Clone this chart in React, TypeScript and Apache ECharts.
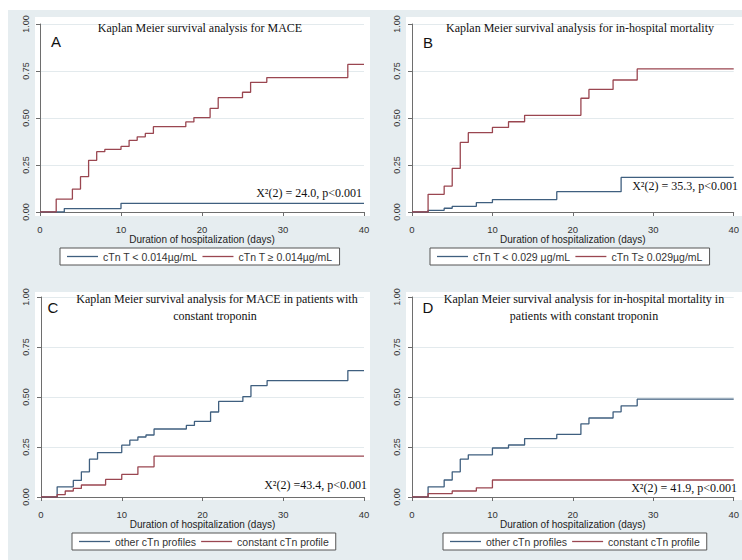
import React, { useEffect, useRef } from "react";
import * as echarts from "echarts";

// ---- Data ----
const xAxisTitle = "Duration of hospitalization (days)";

const aLowName = "cTn T < 0.014µg/mL";
const aHighName = "cTn T ≥ 0.014µg/mL";
const aLowTimes = [0, 3, 10, 40];
const aLowValues = [0, 0.018, 0.046, 0.046];
const aHighTimes = [0, 2, 4, 5, 6, 7, 8, 10, 11, 12, 13, 14, 18, 19, 21, 22, 25, 26, 28, 38, 40];
const aHighValues = [0, 0.069, 0.122, 0.188, 0.275, 0.321, 0.333, 0.349, 0.381, 0.4, 0.418, 0.454, 0.479, 0.502, 0.551, 0.608, 0.637, 0.69, 0.715, 0.785, 0.785];

const bLowName = "cTn T < 0.029 µg/mL";
const bHighName = "cTn T≥ 0.029µg/mL";
const bLowTimes = [0, 2, 4, 5, 8, 10, 18, 26, 40];
const bLowValues = [0, 0.009, 0.02, 0.03, 0.05, 0.066, 0.108, 0.184, 0.184];
const bHighTimes = [0, 2, 4, 5, 6, 7, 10, 12, 14, 21, 22, 25, 28, 40];
const bHighValues = [0, 0.094, 0.138, 0.232, 0.37, 0.422, 0.45, 0.48, 0.514, 0.605, 0.652, 0.702, 0.761, 0.761];

const otherName = "other cTn profiles";
const constName = "constant cTn profile";
const cOtherTimes = [0, 2, 4, 5, 6, 7, 10, 11, 12, 13, 14, 18, 19, 21, 22, 25, 26, 28, 38, 40];
const cOtherValues = [0, 0.051, 0.083, 0.126, 0.189, 0.222, 0.259, 0.284, 0.3, 0.31, 0.34, 0.358, 0.378, 0.425, 0.478, 0.502, 0.557, 0.582, 0.632, 0.632];
const cConstTimes = [0, 2, 3, 4, 5, 8, 10, 12, 14, 40];
const cConstValues = [0, 0.012, 0.03, 0.043, 0.06, 0.088, 0.113, 0.151, 0.204, 0.204];

const dOtherTimes = [0, 2, 4, 5, 6, 7, 10, 12, 14, 18, 21, 22, 25, 26, 28, 40];
const dOtherValues = [0, 0.051, 0.085, 0.126, 0.189, 0.211, 0.245, 0.26, 0.292, 0.313, 0.366, 0.395, 0.426, 0.456, 0.489, 0.489];
const dConstTimes = [0, 2, 5, 8, 10, 40];
const dConstValues = [0, 0.017, 0.03, 0.046, 0.085, 0.085];

const panelLetters = ["A", "B", "C", "D"];
const panelTitles = [
  ["Kaplan Meier survival analysis for MACE"],
  ["Kaplan Meier survival analysis for in-hospital mortality"],
  ["Kaplan Meier survival analysis for MACE in patients with", "constant troponin"],
  ["Kaplan Meier survival analysis for in-hospital mortality in", "patients with constant troponin"],
];
const chiTexts = [
  "X²(2) = 24.0, p<0.001",
  "X²(2) = 35.3, p<0.001",
  "X²(2) =43.4, p<0.001",
  "X²(2) = 41.9, p<0.001",
];

// ---- Styles / layout ----
const BLUE = "#3f5f7f";
const RED = "#9a4650";
const AXIS = "#6e6e6e";
const PANEL_BG = "#e6edf0";
const GRID_LINE = "#e3eaed";
const SANS = "'Liberation Sans', Arial, sans-serif";
const SERIF = "'Liberation Serif', 'Times New Roman', serif";

const layouts = [
  { grid: { left: 40, top: 24, width: 324, height: 188 }, yOff: 6, xOff: 6, legend: { left: 60, top: 248, textW: 95 }, letter: [56, 41], title: [[200, 28]], chi: [362, 193] },
  { grid: { left: 412, top: 24, width: 324, height: 188 }, yOff: 7, xOff: 6, legend: { left: 430, top: 248, textW: 96 }, letter: [428, 42], title: [[580, 28]], chi: [738, 186] },
  { grid: { left: 41, top: 297, width: 323, height: 200 }, yOff: 7, xOff: 6, legend: { left: 72, top: 533, textW: 85 }, letter: [53, 307], title: [[217, 299], [215, 316]], chi: [367, 485] },
  { grid: { left: 412, top: 297, width: 324, height: 200 }, yOff: 7, xOff: 6, legend: { left: 443, top: 533, textW: 85 }, letter: [428, 307], title: [[584, 299], [584, 316]], chi: [737, 488] },
];
// graph region (light bluish gray) and white plot regions, drawn as axis-less helper grids
const graphRegion = { left: 8, top: 10, width: 734, height: 550 };
const plotRegions = [
  { left: 35, top: 17, width: 335, height: 199 },
  { left: 406, top: 17, width: 336, height: 199 },
  { left: 35, top: 292, width: 335, height: 208 },
  { left: 406, top: 292, width: 336, height: 208 },
];

const panelSeries = [
  [
    { name: aLowName, t: aLowTimes, v: aLowValues, color: BLUE },
    { name: aHighName, t: aHighTimes, v: aHighValues, color: RED },
  ],
  [
    { name: bLowName, t: bLowTimes, v: bLowValues, color: BLUE },
    { name: bHighName, t: bHighTimes, v: bHighValues, color: RED },
  ],
  [
    { name: otherName, t: cOtherTimes, v: cOtherValues, color: BLUE },
    { name: constName, t: cConstTimes, v: cConstValues, color: RED },
  ],
  [
    { name: otherName, t: dOtherTimes, v: dOtherValues, color: BLUE },
    { name: constName, t: dConstTimes, v: dConstValues, color: RED },
  ],
];

function pairs(t: number[], v: number[]) {
  return t.map((x, i) => [x, v[i]]);
}

function buildOption() {
  const grid: any[] = [];
  const xAxis: any[] = [];
  const yAxis: any[] = [];
  const series: any[] = [];
  const legend: any[] = [];
  const graphic: any[] = [];

  layouts.forEach((L, i) => {
    grid.push({ ...L.grid, containLabel: false, show: false });
    xAxis.push({
      type: "value",
      gridIndex: i,
      min: 0,
      max: 40,
      interval: 10,
      offset: L.xOff,
      axisLine: { show: true, lineStyle: { color: AXIS, width: 1 } },
      axisTick: { show: true, length: 4, lineStyle: { color: AXIS, width: 1 } },
      axisLabel: { fontSize: 9.5, color: "#333", margin: 6, fontFamily: SANS },
      splitLine: { show: false },
      name: xAxisTitle,
      nameLocation: "middle",
      nameGap: 15,
      nameTextStyle: { fontSize: 10, color: "#222", fontFamily: SANS },
    });
    yAxis.push({
      type: "value",
      gridIndex: i,
      min: 0,
      max: 1,
      interval: 0.25,
      offset: L.yOff,
      axisLine: { show: true, lineStyle: { color: AXIS, width: 1 } },
      axisTick: { show: true, length: 4, lineStyle: { color: AXIS, width: 1 } },
      axisLabel: {
        rotate: 90,
        fontSize: 9,
        color: "#333",
        margin: 4,
        fontFamily: SANS,
        formatter: (v: number) => v.toFixed(2),
      },
      splitLine: { show: true, lineStyle: { color: GRID_LINE, width: 1 } },
    });

    panelSeries[i].forEach((s, k) => {
      series.push({
        type: "line",
        name: s.name,
        xAxisIndex: i,
        yAxisIndex: i,
        step: "end",
        data: pairs(s.t, s.v),
        showSymbol: false,
        symbol: "none",
        color: s.color,
        lineStyle: { color: s.color, width: 1.3 },
        z: 2 + k,
        animation: false,
      });
    });

    legend.push({
      data: panelSeries[i].map((s) => s.name),
      left: L.legend.left,
      top: L.legend.top,
      orient: "horizontal",
      padding: [3, 7],
      itemGap: 5,
      itemWidth: 31,
      itemHeight: 1.3,
      icon: "rect",
      selectedMode: false,
      backgroundColor: "#ffffff",
      borderColor: "#555555",
      borderWidth: 1,
      borderRadius: 0,
      textStyle: { fontSize: 10.5, color: "#333", fontFamily: SANS, width: L.legend.textW, overflow: "none" },
    });

    graphic.push({
      type: "text",
      z: 100,
      x: L.letter[0],
      y: L.letter[1],
      style: { text: panelLetters[i], fontSize: 15, fontFamily: SANS, fill: "#111", align: "center", verticalAlign: "middle" },
    });
    panelTitles[i].forEach((line, j) => {
      graphic.push({
        type: "text",
        z: 100,
        x: L.title[j][0],
        y: L.title[j][1],
        style: { text: line, fontSize: 12, fontFamily: SERIF, fill: "#111", align: "center", verticalAlign: "middle" },
      });
    });
    graphic.push({
      type: "text",
      z: 100,
      x: L.chi[0],
      y: L.chi[1],
      style: { text: chiTexts[i], fontSize: 12, fontFamily: SERIF, fill: "#111", align: "right", verticalAlign: "middle" },
    });
  });

  grid.push({ ...graphRegion, show: true, backgroundColor: PANEL_BG, borderWidth: 0, z: -3 });
  plotRegions.forEach((r) => {
    grid.push({ ...r, show: true, backgroundColor: "#ffffff", borderWidth: 0, z: -2 });
  });

  return {
    animation: false,
    backgroundColor: "#ffffff",
    grid,
    xAxis,
    yAxis,
    series,
    legend,
    graphic,
  };
}

export default function App() {
  const ref = useRef<HTMLDivElement>(null);
  useEffect(() => {
    if (!ref.current) return;
    const chart = echarts.init(ref.current, undefined, { renderer: "svg" });
    chart.setOption(buildOption() as any);
    return () => chart.dispose();
  }, []);
  return (
    <div
      ref={ref}
      style={{ position: "absolute", left: 0, top: 0, width: 742, height: 560 }}
    />
  );
}
